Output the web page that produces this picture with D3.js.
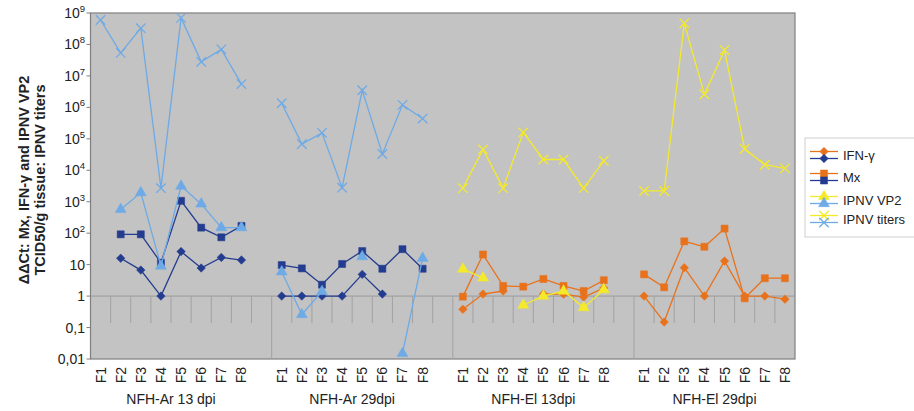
<!DOCTYPE html>
<html>
<head>
<meta charset="utf-8">
<script src="https://cdn.jsdelivr.net/npm/d3@7"></script>
<style>
  body { margin: 0; background: #fff; }
  text { font-family: "Liberation Sans", Arial, sans-serif; }
</style>
</head>
<body>
<div id="container"></div>
<script>
const w = 914;
const h = 411;

const groups = ["NFH-Ar 13 dpi", "NFH-Ar 29dpi", "NFH-El 13dpi", "NFH-El 29dpi"];
const fLabels = ["F1", "F2", "F3", "F4", "F5", "F6", "F7", "F8"];
const yTicks = [1e9, 1e8, 1e7, 1e6, 1e5, 1e4, 1e3, 1e2, 10, 1, 0.1, 0.01];

// Ar fish (blue), 8 values for 13 dpi then 8 for 29 dpi
const arIFN   = [null, 16, 6.7, 1, 26, 7.8, 17, 14,   1, 1, 1, 1, 4.9, 1.16, null, null];
const arMx    = [null, 92, 92, 11.5, 1070, 150, 74, 170,   9.7, 7.6, 2.3, 10.5, 27, 7.4, 31, 7.4];
const arVP2   = [null, 570, 1950, 9, 3150, 850, 150, 150,   5.9, 0.26, 1.4, null, 18, null, 0.015, 16];
const arTiter = [6e8, 5.4e7, 3.3e8, 2.7e3, 7e8, 2.8e7, 7e7, 5.5e6,   1.35e6, 6.8e4, 1.55e5, 2.8e3, 3.5e6, 3.3e4, 1.2e6, 4.4e5];

// El fish (orange / yellow), 8 values for 13 dpi then 8 for 29 dpi
const elIFN   = [0.38, 1.16, 1.45, null, 1.16, 1.15, 0.93, 1.8,   1, 0.15, 8, 1, 13, 1, 1, 0.8];
const elMx    = [0.96, 21, 2.1, 2.0, 3.5, 2.1, 1.45, 3.2,   4.9, 1.9, 55, 37, 140, 0.85, 3.7, 3.7];
const elVP2   = [7.2, 3.8, null, 0.52, 1.0, 1.45, 0.43, 1.6,   null, null, null, null, null, null, null, null];
const elTiter = [2.7e3, 4.6e4, 2.7e3, 1.6e5, 2.2e4, 2.2e4, 2.7e3, 2.0e4,   2.2e3, 2.2e3, 4.7e8, 2.6e6, 6.6e7, 4.8e4, 1.5e4, 1.15e4];

const darkBlue = "#243c8f", lightBlue = "#6eaae6", orange = "#e8721c", yellow = "#f4ea2a";

const plot = { left: 90.5, right: 795, top: 13, bottom: 359 };

// 4 groups of 8 slots with an empty slot between groups
const slots = d3.range(35);
const slotOf = (g, f) => g * 9 + f;

const x = d3.scaleBand().domain(slots).range([plot.left, plot.right]).padding(0);
const cx = (s) => x(s) + x.bandwidth() / 2;
const y = d3.scaleLog().domain([0.01, 1e9]).range([plot.bottom, plot.top]);

const svg = d3.select("#container").append("svg")
  .attr("width", w).attr("height", h);

svg.append("rect")
  .attr("x", plot.left).attr("y", plot.top)
  .attr("width", plot.right - plot.left).attr("height", plot.bottom - plot.top)
  .attr("fill", "#c3c3c3").attr("stroke", "#7f7f7f").attr("stroke-width", 1.2);

// horizontal line at 1 (category axis crossing)
svg.append("line")
  .attr("x1", plot.left).attr("x2", plot.right)
  .attr("y1", y(1)).attr("y2", y(1))
  .attr("stroke", "#999").attr("stroke-width", 1);

// category ticks hanging from the axis, long ones separate the groups
svg.selectAll("line.ctick").data(d3.range(1, 35)).enter().append("line")
  .attr("class", "ctick")
  .attr("x1", (k) => x(k)).attr("x2", (k) => x(k))
  .attr("y1", y(1)).attr("y2", (k) => k % 9 === 0 ? plot.bottom : y(1) + 27)
  .attr("stroke", "#a2a2a2").attr("stroke-width", 1);

// y axis labels
const yAxis = svg.append("g");
yAxis.selectAll("line").data(yTicks).enter().append("line")
  .attr("x1", plot.left - 4).attr("x2", plot.left)
  .attr("y1", (d) => y(d)).attr("y2", (d) => y(d))
  .attr("stroke", "#7f7f7f");
const yl = yAxis.selectAll("text").data(yTicks).enter().append("text")
  .attr("x", 85).attr("y", (d) => y(d) + 5)
  .attr("text-anchor", "end").attr("font-size", 14).attr("fill", "#222");
yl.each(function(d) {
  const t = d3.select(this);
  const k = Math.round(Math.log10(d));
  if (k >= 2) {
    t.append("tspan").text("10");
    t.append("tspan").attr("font-size", 9.5).attr("dy", -6).text(k);
  } else if (k === 1) t.text("10");
  else if (k === 0) t.text("1");
  else if (k === -1) t.text("0,1");
  else t.text("0,01");
});

// y title
const titleY = 180;
svg.append("text")
  .attr("transform", "translate(29," + titleY + ") rotate(-90)")
  .attr("text-anchor", "middle").attr("font-size", 14.5).attr("font-weight", "bold").attr("fill", "#222")
  .text("ΔΔCt: Mx, IFN-γ and IPNV VP2");
svg.append("text")
  .attr("transform", "translate(45," + titleY + ") rotate(-90)")
  .attr("text-anchor", "middle").attr("font-size", 14.5).attr("font-weight", "bold").attr("fill", "#222")
  .text("TCID50/g tissue: IPNV titers");

// x labels
groups.forEach((g, gi) => {
  fLabels.forEach((f, fi) => {
    const s = slotOf(gi, fi);
    svg.append("text")
      .attr("transform", "translate(" + (cx(s) + 5) + ",367) rotate(-90)")
      .attr("text-anchor", "end").attr("font-size", 14).attr("fill", "#222")
      .text(f);
  });
  svg.append("text")
    .attr("x", (x(slotOf(gi, 0)) + x(slotOf(gi, 7)) + x.bandwidth()) / 2)
    .attr("y", 404)
    .attr("text-anchor", "middle").attr("font-size", 14).attr("fill", "#222")
    .text(g);
});

// markers
const sym = {
  diamond: d3.symbol().type(d3.symbolSquare).size(36),
  square: d3.symbol().type(d3.symbolSquare).size(50),
  triangle: d3.symbol().type(d3.symbolTriangle).size(52),
  cross: d3.symbol().type(d3.symbolX).size(60)
};
const rot = (shape) => shape === "diamond" ? " rotate(45)" : "";

// Ar series sit in groups 0-1, El series in groups 2-3
function drawSeries(values, color, shape, g0) {
  const pts = values.map((v, i) => ({ s: slotOf(g0 + Math.floor(i / 8), i % 8), v: v }));
  const line = d3.line().defined((d) => d.v != null)
    .x((d) => cx(d.s)).y((d) => y(d.v));
  [0, 1].forEach((half) => {
    svg.append("path")
      .datum(pts.slice(half * 8, half * 8 + 8))
      .attr("d", line).attr("fill", "none")
      .attr("stroke", color).attr("stroke-width", 1.3);
  });
  svg.selectAll(null).data(pts.filter((d) => d.v != null)).enter().append("path")
    .attr("d", sym[shape])
    .attr("transform", (d) => "translate(" + cx(d.s) + "," + y(d.v) + ")" + rot(shape))
    .attr("fill", shape === "cross" ? "none" : color)
    .attr("stroke", color)
    .attr("stroke-width", shape === "cross" ? 1.3 : 0.5);
}

drawSeries(elIFN, orange, "diamond", 2);
drawSeries(arIFN, darkBlue, "diamond", 0);
drawSeries(elMx, orange, "square", 2);
drawSeries(arMx, darkBlue, "square", 0);
drawSeries(elVP2, yellow, "triangle", 2);
drawSeries(arVP2, lightBlue, "triangle", 0);
drawSeries(elTiter, yellow, "cross", 2);
drawSeries(arTiter, lightBlue, "cross", 0);

// legend
const legend = svg.append("g");
legend.append("rect")
  .attr("x", 805).attr("y", 138).attr("width", 120).attr("height", 99)
  .attr("fill", "#fff").attr("stroke", "#cfcfcf");
const legendItems = [
  { name: "IFN-γ", c1: orange, c2: darkBlue, shape: "diamond", ly: 155 },
  { name: "Mx", c1: orange, c2: darkBlue, shape: "square", ly: 177 },
  { name: "IPNV VP2", c1: yellow, c2: lightBlue, shape: "triangle", ly: 200 },
  { name: "IPNV titers", c1: yellow, c2: lightBlue, shape: "cross", ly: 219 }
];
legendItems.forEach((it) => {
  [[it.c1, -3.5], [it.c2, 3.5]].forEach(([c, dy]) => {
    legend.append("line")
      .attr("x1", 810).attr("x2", 838)
      .attr("y1", it.ly + dy).attr("y2", it.ly + dy)
      .attr("stroke", c).attr("stroke-width", 1.3);
    legend.append("path")
      .attr("d", sym[it.shape])
      .attr("transform", "translate(824," + (it.ly + dy) + ")" + rot(it.shape))
      .attr("fill", it.shape === "cross" ? "none" : c)
      .attr("stroke", c).attr("stroke-width", it.shape === "cross" ? 1.3 : 0.5);
  });
  legend.append("text")
    .attr("x", 843).attr("y", it.ly + 5)
    .attr("font-size", 13).attr("fill", "#222")
    .text(it.name);
});
</script>
</body>
</html>
